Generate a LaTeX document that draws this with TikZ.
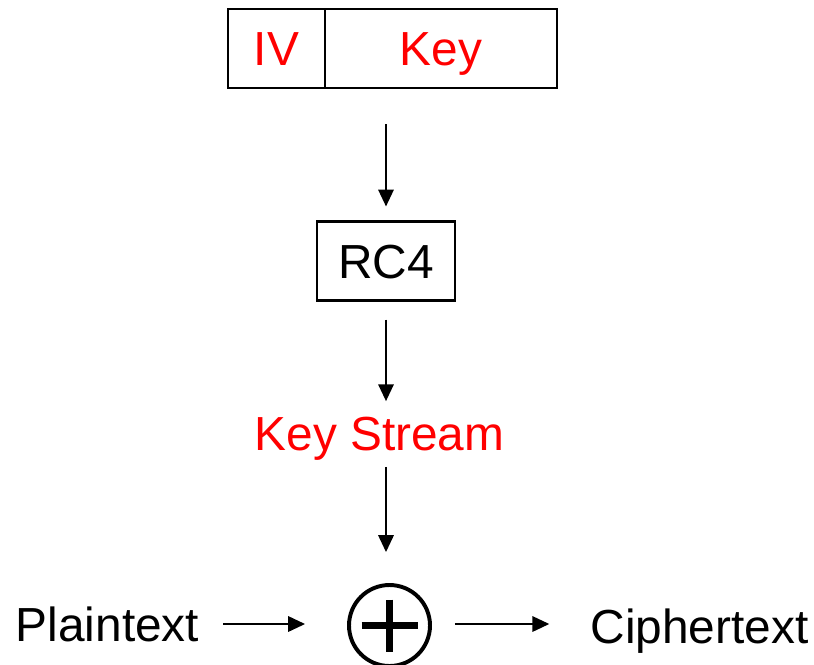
\documentclass[tikz,border=0pt]{standalone}
\usepackage{fontspec}
\setmainfont{Liberation Sans}
\usetikzlibrary{arrows.meta}
\newcommand{\px}{0.025cm}
\tikzset{
  lbl/.style={inner sep=0pt, text height=24.3pt, text depth=0pt, font=\fontsize{34}{40}\selectfont},
  field/.style={lbl, draw, line width=1.5pt, minimum height=79*\px},
  arr/.style={-{Triangle[length=12pt,width=11pt]}, line width=1.3pt},
}
\begin{document}
\begin{tikzpicture}[x=\px, y=-\px]
  \useasboundingbox (0,0) rectangle (814,664);
  % key material
  \node[field, text=red, minimum width=97*\px] (iv) at (276.5,48.5) {IV};
  \node[field, text=red, minimum width=232*\px] (key) at (441,48.5) {Key};
  \node[field, minimum width=138*\px] (rc4) at (386,261) {RC4};
  \node[lbl, text=red] (ks) at (379.5,433.5) {Key Stream};
  \node[draw, circle, line width=2.8pt, minimum size=81*\px, inner sep=0pt] (xor) at (389.5,625.5) {};
  \draw[line width=4.3pt] ([xshift=-28*\px]xor.center) -- ([xshift=28*\px]xor.center);
  \draw[line width=4.3pt] ([yshift=26*\px]xor.center) -- ([yshift=-26*\px]xor.center);
  \node[lbl] (pt) at (107.5,624) {Plaintext};
  \node[lbl] (ct) at (699.5,626) {Ciphertext};
  % flow
  \draw[arr, shorten <=35*\px, shorten >=14*\px] (rc4.north |- key.south) -- (rc4.north);
  \draw[arr, shorten <=18*\px, shorten >=15*\px] (rc4.south) -- (rc4.south |- ks.north);
  \draw[arr, shorten <=16*\px, shorten >=31*\px] (rc4.south |- ks.south) -- (rc4.south |- xor.north);
  \draw[arr, shorten <=24*\px, shorten >=42*\px] (pt.east) -- (pt.east -| xor.west);
  \draw[arr, shorten <=23*\px, shorten >=41*\px] (xor.east |- pt.east) -- (ct.west |- pt.east);
\end{tikzpicture}
\end{document}
